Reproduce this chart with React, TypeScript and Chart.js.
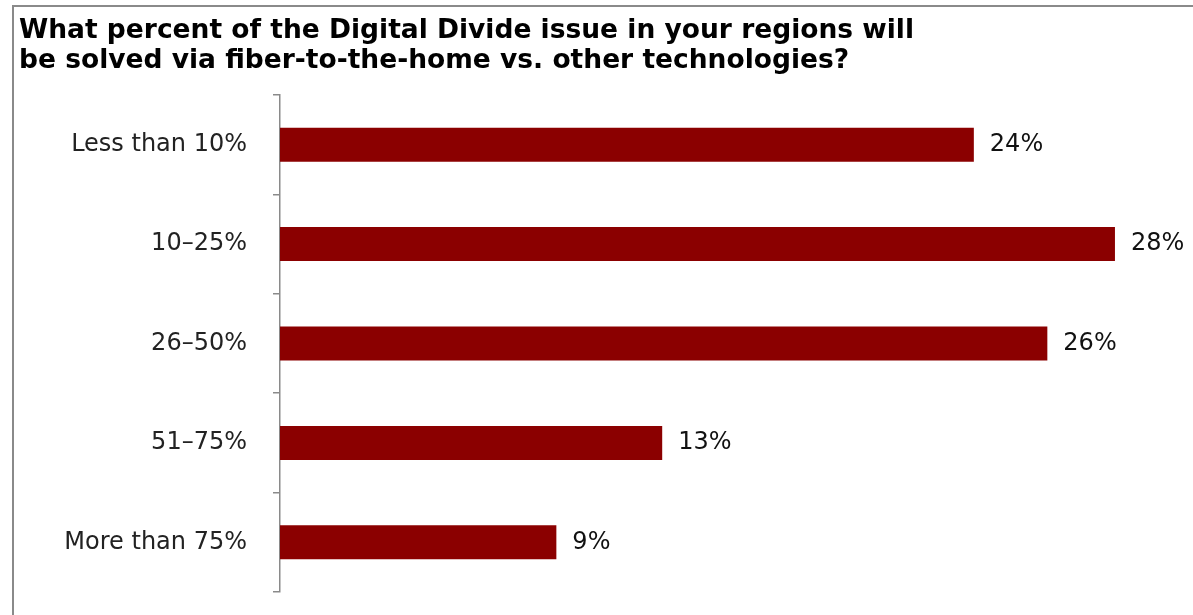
import React, { useEffect, useRef } from "react";
import { Chart, registerables } from "chart.js";

Chart.register(...registerables);

const titleLines = [
  "What percent of the Digital Divide issue in your regions will",
  "be solved via fiber-to-the-home vs. other technologies?",
];
const categories = ["Less than 10%", "10\u201325%", "26\u201350%", "51\u201375%", "More than 75%"];
const values = [23.6, 28.4, 26.1, 13.0, 9.4];
const valueLabels = ["24%", "28%", "26%", "13%", "9%"];

const FONT = "'DejaVu Sans', Verdana, sans-serif";

const framePlugin = {
  id: "frame",
  beforeDraw(chart: any) {
    const ctx = chart.ctx;
    ctx.save();
    ctx.strokeStyle = "#8a8a8a";
    ctx.lineWidth = 2;
    ctx.beginPath();
    ctx.moveTo(13, 615);
    ctx.lineTo(13, 6);
    ctx.lineTo(1193, 6);
    ctx.stroke();
    ctx.fillStyle = "#000";
    ctx.font = "bold 26.5px " + FONT;
    ctx.textBaseline = "alphabetic";
    ctx.textAlign = "left";
    titleLines.forEach((t, i) => ctx.fillText(t, 19, 38 + i * 30));
    ctx.restore();
  },
};

const valueLabelPlugin = {
  id: "valueLabels",
  afterDatasetsDraw(chart: any) {
    const ctx = chart.ctx;
    const meta = chart.getDatasetMeta(0);
    ctx.save();
    ctx.fillStyle = "#111";
    ctx.font = "24px " + FONT;
    ctx.textAlign = "left";
    ctx.textBaseline = "middle";
    meta.data.forEach((bar: any, i: number) => {
      ctx.fillText(valueLabels[i], bar.x + 16, bar.y);
    });
    ctx.restore();
  },
};

export default function App() {
  const ref = useRef<HTMLCanvasElement | null>(null);
  useEffect(() => {
    if (!ref.current) return;
    const chart = new Chart(ref.current, {
      type: "bar",
      data: {
        labels: categories,
        datasets: [
          {
            data: values,
            backgroundColor: "#8b0000",
            borderWidth: 0,
            categoryPercentage: 0.342,
            barPercentage: 1.0,
          },
        ],
      },
      options: {
        indexAxis: "y",
        animation: false,
        responsive: false,
        maintainAspectRatio: false,
        layout: { padding: { top: 95, bottom: 23, right: 31, left: 0 } },
        plugins: {
          legend: { display: false },
          tooltip: { enabled: false },
          title: { display: false },
        },
        scales: {
          x: {
            min: 0,
            max: 30,
            display: false,
          },
          y: {
            offset: true,
            grid: {
              offset: true,
              drawOnChartArea: false,
              drawTicks: true,
              tickLength: 7,
              color: "#8a8a8a",
              lineWidth: 1.5,
            },
            border: { color: "#8a8a8a", width: 1.5 },
            afterFit(scale: any) {
              scale.width = 280;
              scale.paddingTop = 0;
              scale.paddingBottom = 0;
            },
            ticks: {
              color: "#222",
              font: { family: FONT, size: 24 },
              padding: 26,
            },
          },
        },
      },
      plugins: [framePlugin, valueLabelPlugin],
    });
    return () => chart.destroy();
  }, []);
  return (
    <div style={{ position: "absolute", left: 0, top: 0, width: 1193, height: 615, background: "#fff" }}>
      <canvas ref={ref} width={1193} height={615} style={{ display: "block" }} />
    </div>
  );
}
